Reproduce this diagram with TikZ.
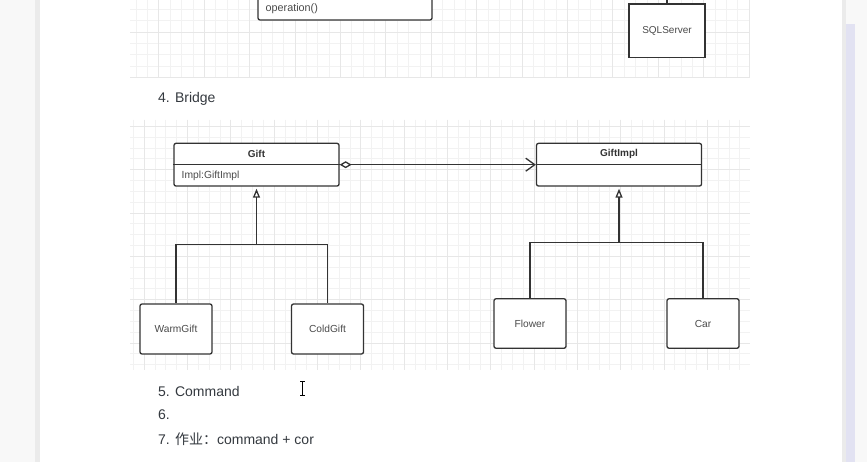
\documentclass[tikz,border=0pt]{standalone}
\usepackage{fontspec}
\setmainfont{Liberation Sans}
\newfontfamily\cjk{Noto Sans CJK SC}
\usetikzlibrary{arrows.meta}
\definecolor{linec}{HTML}{333333}
\definecolor{boxtext}{HTML}{4A4A4A}
\definecolor{listtext}{HTML}{34393F}
\definecolor{gridminor}{HTML}{F2F2F2}
\definecolor{gridmajor}{HTML}{E7E7E7}
\definecolor{sidepanel}{HTML}{F8F8F8}
\definecolor{sideedge}{HTML}{EBEBEB}
\definecolor{scrollbar}{HTML}{E2E2F2}

\tikzset{
  classbox/.style={draw=linec,line width=1.3pt,rounded corners=2pt,fill=white,
    minimum width=165pt,minimum height=42.7pt,inner sep=0pt},
  subbox/.style={draw=linec,line width=1.3pt,rounded corners=2pt,fill=white,
    minimum width=72pt,minimum height=50pt,inner sep=0pt,
    font=\fontsize{10.2}{12}\selectfont,text=boxtext},
  classname/.style={font=\fontsize{10}{12}\selectfont\bfseries,text=linec,inner sep=0pt},
  member/.style={font=\fontsize{10.3}{12}\selectfont,text=boxtext,inner sep=0pt,anchor=west},
  listitem/.style={font=\fontsize{14}{16}\selectfont,text=listtext,inner sep=0pt,anchor=west},
  gridline/.style={line width=0.7pt},
  conn/.style={draw=linec,line width=1.3pt},
  inherit/.style={conn,-{Triangle[open,length=9pt,width=7pt]},shorten >=2pt},
  aggr/.style={conn,{Diamond[open,length=12pt,width=7pt]}-{Straight Barb[length=9pt,width=13pt]}}
}

\begin{document}
\begin{tikzpicture}[x=1pt,y=-1pt]
\useasboundingbox (0,0) rectangle (867,462);
\clip (0,0) rectangle (867,462);
\fill[white] (0,0) rectangle (867,462);

\fill[sidepanel] (0,0) rectangle (35,462);
\fill[sideedge] (35,0) rectangle (40,462);
\fill[sideedge] (842,0) rectangle (846,462);
\fill[sidepanel] (846,0) rectangle (867,462);
\fill[scrollbar] (846,24) rectangle (855,462);

\foreach \k in {0,...,54} \draw[gridminor,gridline] ({136.1+11.35*\k},0) -- ({136.1+11.35*\k},77.3);
\foreach \k in {0,...,6} \draw[gridminor,gridline] (130,{-2+11.35*\k}) -- (750,{-2+11.35*\k});
\foreach \k in {0,...,13} \draw[gridmajor,gridline] ({158.8+45.4*\k},0) -- ({158.8+45.4*\k},77.3);
\draw[gridmajor,gridline] (130,32) -- (750,32);
\draw[gridmajor,gridline] (130,77.3) -- (750,77.3);

\foreach \k in {0,...,56} \draw[gridminor,gridline] ({133.3+10.83*\k},120) -- ({133.3+10.83*\k},370);
\foreach \k in {0,...,22} \draw[gridminor,gridline] (130,{126.3+10.83*\k}) -- (750,{126.3+10.83*\k});
\foreach \k in {0,...,13} \draw[gridmajor,gridline] ({144.1+43.32*\k},120) -- ({144.1+43.32*\k},370);
\foreach \k in {0,...,5} \draw[gridmajor,gridline] (130,{126.3+43.32*\k}) -- (750,{126.3+43.32*\k});

\node[classbox,minimum width=174pt,minimum height=40pt] (operations) at (345,0) {};
\node[member,font=\fontsize{10.8}{12}\selectfont] (operation) at (265.5,9) {operation()};
\node[draw=linec,line width=1.3pt,fill=white,minimum width=76pt,minimum height=53.7pt,inner sep=0pt,
  font=\fontsize{10}{12}\selectfont,text=boxtext] (sqlserver) at (667,30.9) {SQLServer};
\coordinate (sqltop) at (667,-5);
\draw[conn] (sqlserver.north) -- (sqltop);

\node[listitem] (bridge) at (158,99) {4. Bridge};

\node[classbox] (gift) at (256.5,164.7) {};
\draw[conn] (gift.west) -- (gift.east);
\node[classname] (giftname) at (256.5,154) {Gift};
\node[member] (giftimplattr) at (181.5,176) {Impl:GiftImpl};

\node[classbox] (giftimpl) at (619,164.7) {};
\draw[conn] (giftimpl.west) -- (giftimpl.east);
\node[classname] (giftimplname) at (619,154) {GiftImpl};

\draw[aggr] (gift.east) -- (giftimpl.west);

\node[subbox] (warmgift) at (176,329) {WarmGift};
\node[subbox] (coldgift) at (327.5,329) {ColdGift};
\node[subbox,minimum height=49.5pt] (flower) at (530,323.5) {Flower};
\node[subbox,minimum height=49.5pt] (car) at (703,323.5) {Car};

\coordinate (giftjoin) at (256.5,244.5);
\coordinate (impljoin) at (619,242.7);
\draw[conn] (warmgift.north) |- (giftjoin) -| (coldgift.north);
\draw[inherit] (giftjoin) -- (gift.south);
\draw[conn] (flower.north) |- (impljoin) -| (car.north);
\draw[inherit] (impljoin) -- (giftimpl.south);

\node[listitem] (command) at (158,391) {5. Command};
\node[listitem] (six) at (158,415) {6.};
\node[listitem] (homework) at (158,439) {7. {\cjk 作业：}command + cor};

\draw[black,line width=0.9pt] (300,381) -- (305,381) (302.5,381) -- (302.5,395) (300,395) -- (305,395);
\end{tikzpicture}
\end{document}
